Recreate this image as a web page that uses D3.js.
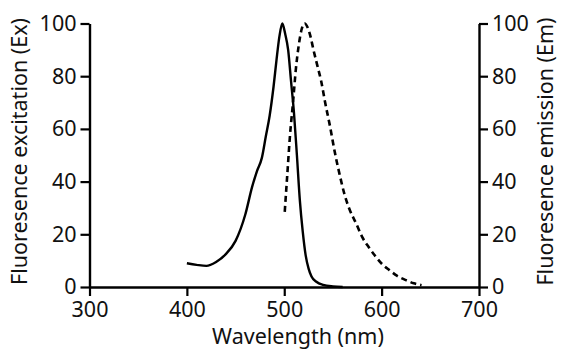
<!DOCTYPE html>
<html>
<head>
<meta charset="utf-8">
<script src="https://cdn.jsdelivr.net/npm/d3@7"></script>
<style>
html,body{margin:0;padding:0;background:#fff;}
svg{display:block;}
text{font-family:"Noto Sans",sans-serif;fill:#111;}
</style>
</head>
<body>
<svg id="chart" width="577" height="357"></svg>
<script>
const xTicks = [300, 400, 500, 600, 700];
const yTicks = [0, 20, 40, 60, 80, 100];
const exWavelength = [400,410,420,430,440,450,460,467,472,477,481,485,489,492,495,498,501,504,507,510,513,516,519,522,525,528,533,540,550,560];
const exValue      = [9,8.4,8,9.5,12.5,17.5,27.5,38,44,49,57,65,76,86,95,100,96,90,78,66,50,33,21,12,7,4,2,0.8,0.2,0];
const emWavelength = [500.5,503,506,509,512,515,518,521,524,527,530,534,538,542,547,552,557,562,567,574,580,587,594,601,608,616,625,633,641];
const emValue      = [28.5,42,58,70,83,92,98,100,98.5,95,90,84,78,70,61,51,42.5,35,29.5,24,19,15,11.5,8.5,6.4,4.2,2.6,1.4,0.7];
const xLabel = "Wavelength (nm)";
const yLeftLabel = "Fluoresence excitation (Ex)";
const yRightLabel = "Fluoresence emission (Em)";

const svg = d3.select("#chart");
const L = 89.5, R = 479, T = 23.5, B = 287;
const x = d3.scaleLinear().domain([300, 700]).range([L, R]);
const yL = d3.scaleLinear().domain([0, 100]).range([B, T]);
const yR = d3.scaleLinear().domain([0, 100]).range([B, T]);
const fs = 21.5;

function styleAxis(g){
  g.select(".domain").attr("stroke","#000").attr("stroke-width",2.4);
  g.selectAll(".tick line").attr("stroke","#000").attr("stroke-width",2.2);
  g.selectAll(".tick text").attr("font-size",fs).attr("font-family","'Noto Sans',sans-serif").attr("fill","#111");
}

svg.append("g").attr("transform",`translate(0,${B})`)
  .call(d3.axisBottom(x).tickValues(xTicks).tickSize(9).tickSizeOuter(0).tickPadding(6))
  .call(styleAxis);
svg.append("g").attr("transform",`translate(${L},0)`)
  .call(d3.axisLeft(yL).tickValues(yTicks).tickSize(9).tickSizeOuter(0).tickPadding(4))
  .call(styleAxis);
svg.append("g").attr("transform",`translate(${R},0)`)
  .call(d3.axisRight(yR).tickValues(yTicks).tickSize(9).tickSizeOuter(0).tickPadding(4))
  .call(styleAxis);

const exData = exWavelength.map((w,i)=>[w, exValue[i]]);
const emData = emWavelength.map((w,i)=>[w, emValue[i]]);

svg.append("path").datum(exData)
  .attr("fill","none").attr("stroke","#000").attr("stroke-width",2.4)
  .attr("d", d3.line().x(d=>x(d[0])).y(d=>yL(d[1])).curve(d3.curveMonotoneX));
svg.append("path").datum(emData)
  .attr("fill","none").attr("stroke","#000").attr("stroke-width",2.6)
  .attr("stroke-dasharray","6,4")
  .attr("d", d3.line().x(d=>x(d[0])).y(d=>yR(d[1])).curve(d3.curveMonotoneX));

svg.append("text").attr("x",298).attr("y",344).attr("text-anchor","middle")
  .attr("font-size",fs).text(xLabel);
svg.append("text").attr("transform","translate(27,151.5) rotate(-90)").attr("text-anchor","middle")
  .attr("font-size",fs).text(yLeftLabel);
svg.append("text").attr("transform","translate(553,151.5) rotate(-90)").attr("text-anchor","middle")
  .attr("font-size",fs).text(yRightLabel);
</script>
</body>
</html>
